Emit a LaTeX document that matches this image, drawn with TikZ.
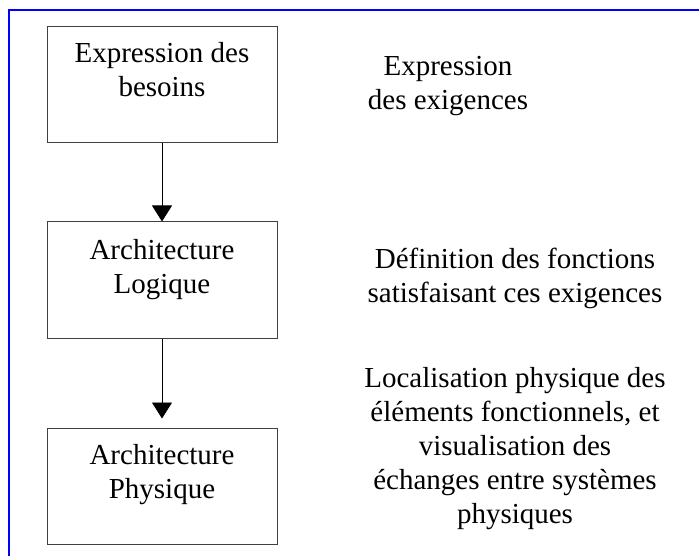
\documentclass[tikz,border=0pt]{standalone}
\usepackage{fontspec}
\setmainfont{Liberation Serif}
\usetikzlibrary{arrows.meta}
\begin{document}
\begin{tikzpicture}[x=1pt,y=-1pt,
  box/.style={draw=black!75, line width=1pt, minimum width=230pt, minimum height=116pt, inner sep=0pt},
  txt/.style={font=\fontsize{29}{34}\selectfont, align=center, inner sep=0pt, anchor=base},
  flow/.style={line width=0.8pt, -{Triangle[length=16pt,width=20pt]}}]
\useasboundingbox (0,0) rectangle (699,556);
\fill[white] (0,0) rectangle (699,556);
% frame
\draw[blue, line width=1.5pt] (9,560) -- (9,10) -- (703,10);
% boxes
\node[box] (b1) at (162,85) {};
\node[box] (b2) at (162,280) {};
\node[box] (b3) at (162,486) {};
% box captions (anchored at the baseline of the last line)
\node[txt] (t1) at (162,97) {Expression des\\besoins};
\node[txt] (t2) at (162,293) {Architecture\\Logique};
\node[txt] (t3) at (162,498) {Architecture\\Physique};
% descriptions
\node[txt] (r1) at (448,110) {Expression\\des exigences};
\node[txt] (r2) at (515,302) {Définition des fonctions\\satisfaisant ces exigences};
\node[txt] (r3) at (515,523) {Localisation physique des\\éléments fonctionnels, et\\visualisation des\\échanges entre systèmes\\physiques};
% connectors
\draw[flow] (b1.south) -- (b2.north);
\draw[flow, shorten >=9pt] (b2.south) -- (b3.north);
\end{tikzpicture}
\end{document}
